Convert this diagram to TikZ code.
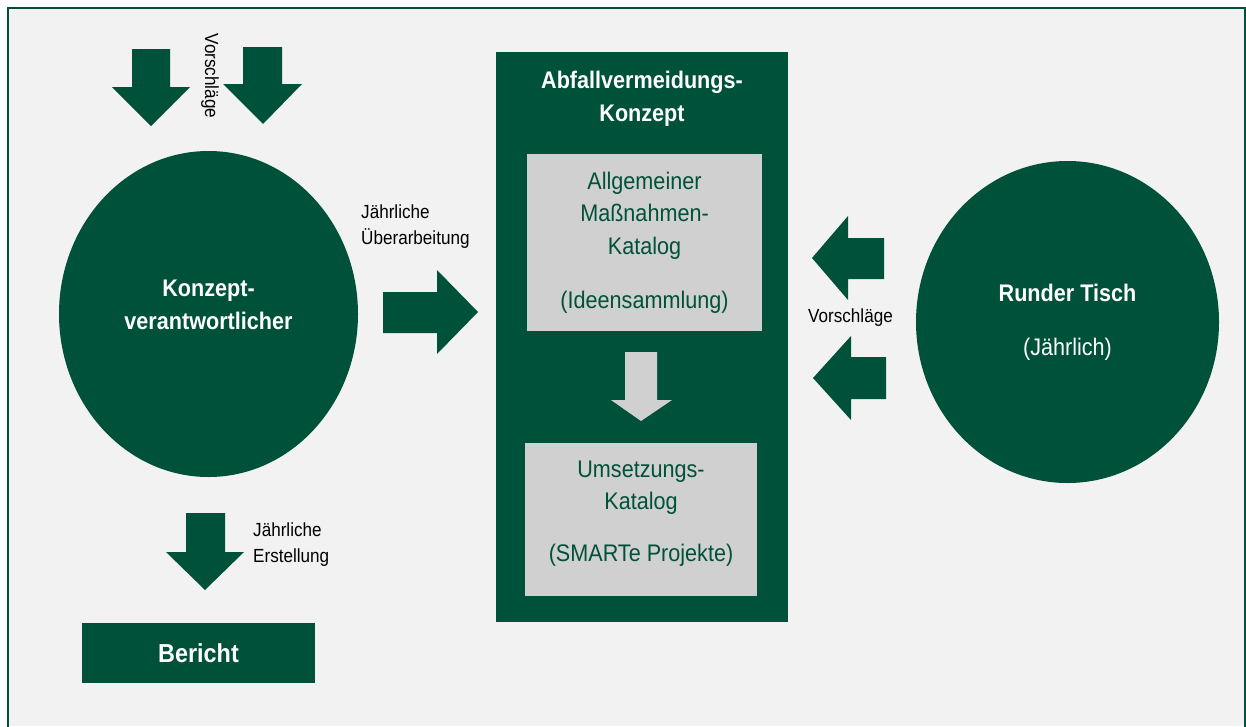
\documentclass[tikz,border=0pt]{standalone}
\usepackage{fontspec}
\setmainfont{Liberation Sans}[FakeStretch=0.9]
\usetikzlibrary{shapes.geometric}

\definecolor{dgreen}{RGB}{0,81,58}
\definecolor{bggray}{RGB}{242,242,242}
\definecolor{boxgray}{RGB}{208,208,208}

\tikzset{
  greenround/.style={ellipse, fill=dgreen, inner sep=0pt},
  greenbox/.style={rectangle, fill=dgreen, inner sep=0pt},
  catbox/.style={rectangle, fill=boxgray, text=dgreen, align=center, inner sep=0pt,
    font=\fontsize{24}{32.5}\selectfont},
  whitetext/.style={text=white, align=center, inner sep=0pt,
    font=\bfseries\fontsize{24}{33}\selectfont},
  smalltext/.style={align=left, inner sep=0pt, font=\fontsize{19}{26}\selectfont},
}

\begin{document}
\begin{tikzpicture}[x=1pt,y=-1pt]
  \useasboundingbox (0,0) rectangle (1246,726);

  % Background and frame
  \fill[bggray] (8,8) rectangle (1245,726);
  \draw[dgreen, line width=2.5pt] (8,730) -- (8,8) -- (1245,8) -- (1245,730);

  % Left circle
  \node[greenround, minimum width=299, minimum height=326] (verantwortlicher) at (208.5,314) {};
  \node[whitetext] (verantwortlichertext) at (208.5,304.5) {Konzept-\\verantwortlicher};

  % Central concept box with its two catalogues
  \node[greenbox, minimum width=292, minimum height=570] (konzept) at (642,337) {};
  \node[whitetext] (konzepttext) at (642,98.5) {Abfallvermeidungs-\\Konzept};
  \node[catbox, minimum width=235, minimum height=177] (massnahmen) at (644.5,242.5)
    {Allgemeiner\\Maßnahmen-\\Katalog\\[21.5pt](Ideensammlung)};
  \node[catbox, minimum width=232, minimum height=153] (umsetzung) at (641,519.5) {};
  \node[catbox, fill=none] (umsetzungtext) at (641,513.5)
    {Umsetzungs-\\Katalog\\[19pt](SMARTe Projekte)};

  % Right circle
  \node[greenround, minimum width=303, minimum height=322, text=white, align=center,
    font=\fontsize{24}{32}\selectfont] (tisch) at (1067.5,322)
    {\textbf{Runder Tisch}\\[22pt](Jährlich)};

  % Report box
  \node[greenbox, minimum width=233, minimum height=60, text=white,
    font=\bfseries\fontsize{26}{30}\selectfont] (bericht) at (198.5,653) {Bericht};

  % Arrows: suggestions from the top
  \fill[dgreen] (132,49) -- (170,49) -- (170,87) -- (190,87) -- (151,126)
    -- (112,87) -- (132,87) -- cycle;
  \fill[dgreen] (243,47) -- (282,47) -- (282,84) -- (302,84) -- (263,124)
    -- (223,84) -- (243,84) -- cycle;
  \node[smalltext, rotate=-90] (vorschlaegeoben) at (210,76) {Vorschläge};

  % Arrow: yearly revision
  \fill[dgreen] (383,292) -- (437,292) -- (437,270) -- (478,312) -- (437,354)
    -- (437,333) -- (383,333) -- cycle;
  \node[smalltext, anchor=west] (ueberarbeitung) at (361,227) {Jährliche\\Überarbeitung};

  % Arrow between the catalogues
  \fill[boxgray] (625,352) -- (657,352) -- (657,400) -- (672,400) -- (641,421)
    -- (611,400) -- (625,400) -- cycle;

  % Arrows: suggestions from the round table
  \fill[dgreen] (884,238) -- (848,238) -- (848,216) -- (812,258) -- (848,300)
    -- (848,279) -- (884,279) -- cycle;
  \fill[dgreen] (886,357) -- (851,357) -- (851,336) -- (813,378) -- (851,420)
    -- (851,399) -- (886,399) -- cycle;
  \node[smalltext] (vorschlaegerechts) at (850.5,318) {Vorschläge};

  % Arrow: yearly report
  \fill[dgreen] (186,513) -- (225,513) -- (225,552) -- (244,552) -- (205,590)
    -- (166,552) -- (186,552) -- cycle;
  \node[smalltext, anchor=west] (erstellung) at (253,545) {Jährliche\\Erstellung};
\end{tikzpicture}
\end{document}
